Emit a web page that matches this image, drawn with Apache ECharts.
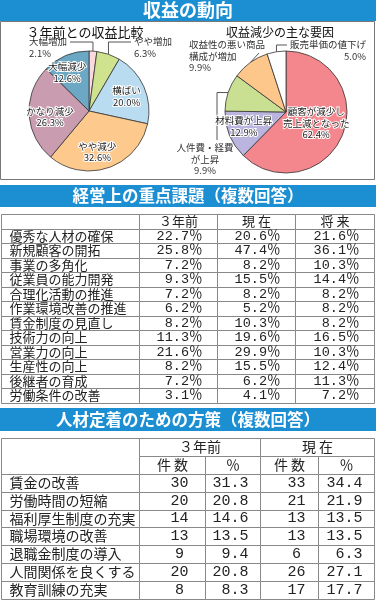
<!DOCTYPE html>
<html>
<head>
<meta charset="utf-8">
<script src="https://cdn.jsdelivr.net/npm/echarts/dist/echarts.min.js"></script>
<style>
html,body{margin:0;padding:0;background:#fff}
#main{width:376px;height:600px}
</style>
</head>
<body>
<div id="main"></div>
<script>
// ---- data ----
var pie1Title = '３年前との収益比較';
var pie1Names = ['大幅増加', 'やや増加', '横ばい', 'やや減少', 'かなり減少', '大幅減少'];
var pie1Values = [2.1, 6.3, 20.0, 32.6, 26.3, 12.6];

var pie2Title = '収益減少の主な要因';
var pie2Names = ['顧客が減少し\n売上減となった', '材料費が上昇', '人件費・経費\nが上昇', '収益性の悪い商品\n構成が増加', '販売単価の値下げ'];
var pie2Values = [62.4, 12.9, 9.9, 9.9, 5.0];

var t1Cols = ['３年前', '現 在', '将 来'];
var t1Items = ['優秀な人材の確保', '新規顧客の開拓', '事業の多角化', '従業員の能力開発', '合理化活動の推進', '作業環境改善の推進',
  '賃金制度の見直し', '技術力の向上', '営業力の向上', '生産性の向上', '後継者の育成', '労働条件の改善'];
var t1Before = [22.7, 25.8, 7.2, 9.3, 7.2, 6.2, 8.2, 11.3, 21.6, 8.2, 7.2, 3.1];
var t1Now = [20.6, 47.4, 8.2, 15.5, 8.2, 5.2, 10.3, 19.6, 29.9, 15.5, 6.2, 4.1];
var t1Future = [21.6, 36.1, 10.3, 14.4, 8.2, 8.2, 8.2, 16.5, 10.3, 12.4, 11.3, 7.2];

var t2Groups = ['３年前', '現 在'];
var t2Sub = ['件 数', '％'];
var t2Items = ['賃金の改善', '労働時間の短縮', '福利厚生制度の充実', '職場環境の改善', '退職金制度の導入', '人間関係を良くする', '教育訓練の充実'];
var t2BeforeN = [30, 20, 14, 13, 9, 20, 8];
var t2BeforePct = [31.3, 20.8, 14.6, 13.5, 9.4, 20.8, 8.3];
var t2NowN = [33, 21, 13, 13, 6, 26, 17];
var t2NowPct = [34.4, 21.9, 13.5, 13.5, 6.3, 27.1, 17.7];

var banners = ['収益の動向', '経営上の重点課題（複数回答）', '人材定着のための方策（複数回答）'];

// ---- styles / layout ----
var FONT = '"Noto Sans CJK JP", sans-serif';
var NUMFONT = '"Liberation Mono", "Noto Sans CJK JP", monospace';
var BLUE = '#1c8fd3';
var LINE = '#888';

var pie1Colors = ['#fbd9df', '#cfe38f', '#b9dcf0', '#fdc98d', '#c99caf', '#6ca7c3'];
var pie2Colors = ['#f4878e', '#b9b5de', '#c9e092', '#fdc68a', '#ffffff'];
var pie1Inside = [false, false, true, true, true, true];
var pie2Inside = [true, true, false, false, false];
var pie1Nudge = [[0, 0], [0, 0], [0, 2], [-5, 2], [2, 4], [-6, -1]];
var pie2Nudge = [[-5, -3], [-7, 0], [0, 0], [0, 0], [0, 0]];
var pie1Outside = [{x: 29, y: 36, align: 'left', kind: 'upLeft'}, {x: 134, y: 36, align: 'left', kind: 'upRight'}, null, null, null, null];
var pie2Outside = [null, null, {x: 205, y: 142, align: 'center', kind: 'down'},
  {x: 189, y: 39, align: 'left', kind: 'diag'}, {x: 366, y: 39, align: 'right', kind: 'upRight'}];

var cellStyles = {
  head: {align: 'center', pad: 0, size: 13, font: FONT},
  item: {align: 'left', pad: 8, size: 13, font: FONT},
  num: {align: 'right', pad: 15, size: 13.5, font: NUMFONT},
  head2: {align: 'center', pad: 0, size: 14, font: FONT},
  item2: {align: 'left', pad: 8, size: 14, font: FONT},
  cnt: {align: 'center', pad: 7, size: 15, font: NUMFONT},
  pct2: {align: 'right', pad: 12, size: 15, font: NUMFONT}
};
var t1Edges = [1, 139, 217, 295, 374];
var t2Edges = [1, 139, 205, 260, 318, 374];

function pct(v) { return v.toFixed(1) + '%'; }

// ---- tables ----
function addCell(list, x0, x1, r0, r1, text, kind) {
  list.push({x0: x0, x1: x1, r0: r0, r1: r1, text: text, st: cellStyles[kind]});
}

var t1Cells = [];
addCell(t1Cells, t1Edges[0], t1Edges[1], 0, 1, '', 'head');
t1Cols.forEach(function (c, j) { addCell(t1Cells, t1Edges[j + 1], t1Edges[j + 2], 0, 1, c, 'head'); });
t1Items.forEach(function (name, i) {
  var r = i + 1;
  addCell(t1Cells, t1Edges[0], t1Edges[1], r, r + 1, name, 'item');
  [t1Before, t1Now, t1Future].forEach(function (arr, j) {
    addCell(t1Cells, t1Edges[j + 1], t1Edges[j + 2], r, r + 1, arr[i].toFixed(1) + '％', 'num');
  });
});

var t2Cells = [];
addCell(t2Cells, t2Edges[0], t2Edges[1], 0, 2, '', 'head2');
t2Groups.forEach(function (g, k) {
  addCell(t2Cells, t2Edges[1 + 2 * k], t2Edges[3 + 2 * k], 0, 1, g, 'head2');
  t2Sub.forEach(function (s, j) {
    addCell(t2Cells, t2Edges[1 + 2 * k + j], t2Edges[2 + 2 * k + j], 1, 2, s, 'head2');
  });
});
t2Items.forEach(function (name, i) {
  var r = i + 2;
  addCell(t2Cells, t2Edges[0], t2Edges[1], r, r + 1, name, 'item2');
  addCell(t2Cells, t2Edges[1], t2Edges[2], r, r + 1, String(t2BeforeN[i]), 'cnt');
  addCell(t2Cells, t2Edges[2], t2Edges[3], r, r + 1, t2BeforePct[i].toFixed(1), 'pct2');
  addCell(t2Cells, t2Edges[3], t2Edges[4], r, r + 1, String(t2NowN[i]), 'cnt');
  addCell(t2Cells, t2Edges[4], t2Edges[5], r, r + 1, t2NowPct[i].toFixed(1), 'pct2');
});

function tableSeries(idx, cells) {
  return {
    type: 'custom', xAxisIndex: idx, yAxisIndex: idx, silent: true, animation: false,
    encode: {x: [0, 1], y: [2, 3]},
    data: cells.map(function (c) { return [c.x0, c.x1, c.r0, c.r1]; }),
    renderItem: function (params, api) {
      var c = cells[params.dataIndex], st = c.st;
      var a = api.coord([api.value(0), api.value(2)]);
      var b = api.coord([api.value(1), api.value(3)]);
      var x0 = Math.round(a[0]) + 0.5, y0 = Math.round(a[1]) + 0.5;
      var x1 = Math.round(b[0]) + 0.5, y1 = Math.round(b[1]) + 0.5;
      var tx = st.align === 'left' ? x0 + st.pad : st.align === 'right' ? x1 - st.pad : (x0 + x1) / 2 + st.pad;
      return {
        type: 'group',
        children: [
          {type: 'rect', shape: {x: x0, y: y0, width: x1 - x0, height: y1 - y0},
            style: {fill: '#fff', stroke: LINE, lineWidth: 1}},
          {type: 'text', x: tx, y: (y0 + y1) / 2 - 0.5,
            style: {text: c.text, align: st.align, verticalAlign: 'middle', fontSize: st.size,
              fontFamily: st.font, fill: '#222'}}
        ]
      };
    }
  };
}

// ---- pies ----
function leaderPoints(kind, a, box) {
  var ly = box.top + 6;
  if (kind === 'upLeft') return [a, [a[0], ly], [box.right + 3, ly]];
  if (kind === 'upRight') return [a, [a[0], ly], [box.left - 3, ly]];
  if (kind === 'down') return [a, [box.cx + 12, a[1]], [box.cx + 12, box.top - 2]];
  return [a, [box.right - 6, box.top + 14]];
}

function slicesSeries(center, r, names, values, colors, outside) {
  return {
    type: 'pie', center: center, radius: r, startAngle: 90, clockwise: true,
    avoidLabelOverlap: false, silent: true, animation: false,
    itemStyle: {borderColor: '#333', borderWidth: 0.8},
    label: {position: 'outside', color: '#333', fontSize: 9.5, lineHeight: 11.5, fontFamily: FONT,
      formatter: function (p) { return p.name + '\n' + pct(p.value); }},
    labelLine: {length: 5, length2: 5, smooth: false, lineStyle: {color: '#555', width: 1}},
    data: names.map(function (n, i) {
      var show = !!outside[i];
      return {name: n, value: values[i], itemStyle: {color: colors[i]}, label: {show: show}, labelLine: {show: show}};
    }),
    labelLayout: function (p) {
      var o = outside[p.dataIndex];
      if (!o || !p.labelLinePoints) return {};
      var w = p.labelRect.width;
      var left = o.align === 'left' ? o.x : o.align === 'right' ? o.x - w : o.x - w / 2;
      var box = {left: left, right: left + w, top: o.y, cx: left + w / 2};
      return {
        x: o.x, y: o.y, align: o.align, verticalAlign: 'top',
        labelLinePoints: leaderPoints(o.kind, p.labelLinePoints[0], box)
      };
    }
  };
}

function labelSeries(center, r, names, values, inside, nudge) {
  return {
    type: 'pie', center: center, radius: [0, r], startAngle: 90, clockwise: true,
    avoidLabelOverlap: false, silent: true, animation: false, z: 3,
    itemStyle: {color: 'rgba(0,0,0,0)', borderWidth: 0},
    label: {position: 'inside', color: '#222', fontSize: 9.5, lineHeight: 11.5, fontFamily: FONT,
      textBorderColor: '#fff', textBorderWidth: 2,
      formatter: function (p) { return p.name + '\n' + pct(p.value); }},
    labelLine: {show: false},
    data: names.map(function (n, i) { return {name: n, value: values[i], label: {show: inside[i]}}; }),
    labelLayout: function (p) {
      var d = nudge[p.dataIndex];
      return {dx: d[0], dy: d[1]};
    }
  };
}

function bannerText(text, y, size) {
  return {type: 'text', x: 188, y: y, z: 10,
    style: {text: text, align: 'center', verticalAlign: 'middle', fontSize: size, fontWeight: 'bold',
      fontFamily: FONT, fill: '#fff', shadowColor: 'rgba(0,40,80,0.6)', shadowBlur: 1, shadowOffsetX: 0.5, shadowOffsetY: 0.5}};
}

var chart = echarts.init(document.getElementById('main'));
chart.setOption({
  animation: false,
  graphic: [
    {type: 'rect', shape: {x: 0, y: 0, width: 376, height: 21}, style: {fill: BLUE}},
    bannerText(banners[0], 10.5, 18),
    {type: 'rect', shape: {x: 0.5, y: 21.5, width: 374, height: 158}, style: {fill: 'none', stroke: '#777', lineWidth: 1}},
    {type: 'text', x: 85, y: 32, style: {text: pie1Title, align: 'center', verticalAlign: 'middle', fontSize: 13, fontFamily: FONT, fill: '#111'}},
    {type: 'text', x: 280, y: 32, style: {text: pie2Title, align: 'center', verticalAlign: 'middle', fontSize: 12, fontFamily: FONT, fill: '#111'}},
    {type: 'rect', shape: {x: 0, y: 185, width: 376, height: 22}, style: {fill: BLUE}},
    bannerText(banners[1], 196, 16.5),
    {type: 'rect', shape: {x: 0, y: 408, width: 376, height: 23}, style: {fill: BLUE}},
    bannerText(banners[2], 419.5, 16.5)
  ],
  grid: [
    {left: 0, top: 214, width: 375, height: 188.5},
    {left: 0, top: 438, width: 375, height: 161}
  ],
  xAxis: [
    {type: 'value', gridIndex: 0, min: 0, max: 375, show: false},
    {type: 'value', gridIndex: 1, min: 0, max: 375, show: false}
  ],
  yAxis: [
    {type: 'value', gridIndex: 0, min: 0, max: 13, inverse: true, show: false},
    {type: 'value', gridIndex: 1, min: 0, max: 9, inverse: true, show: false}
  ],
  series: [
    slicesSeries([89, 111], 60, pie1Names, pie1Values, pie1Colors, pie1Outside),
    labelSeries([89, 111], 76, pie1Names, pie1Values, pie1Inside, pie1Nudge),
    slicesSeries([286, 112], 61, pie2Names, pie2Values, pie2Colors, pie2Outside),
    labelSeries([286, 112], 70, pie2Names, pie2Values, pie2Inside, pie2Nudge),
    tableSeries(0, t1Cells),
    tableSeries(1, t2Cells)
  ]
});
</script>
</body>
</html>
